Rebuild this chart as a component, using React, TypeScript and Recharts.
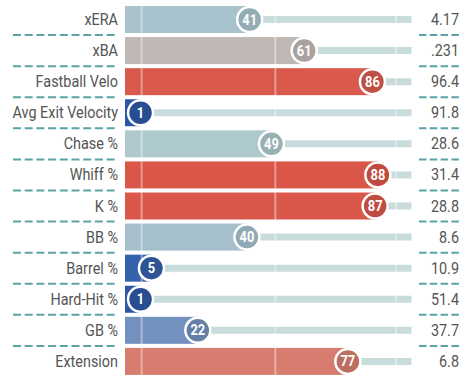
import { BarChart, Bar, XAxis, YAxis, ReferenceLine, LabelList } from 'recharts';

const metrics = [
  'xERA',
  'xBA',
  'Fastball Velo',
  'Avg Exit Velocity',
  'Chase %',
  'Whiff %',
  'K %',
  'BB %',
  'Barrel %',
  'Hard-Hit %',
  'GB %',
  'Extension',
];
const percentiles = [41, 61, 86, 1, 49, 88, 87, 40, 5, 1, 22, 77];
const statValues = ['4.17', '.231', '96.4', '91.8', '28.6', '31.4', '28.8', '8.6', '10.9', '51.4', '37.7', '6.8'];
const guideLines = [1.4, 50.4, 94.6];

const BAR_START = -4.7;
const TRACK_END = 100.4;
const FONT = 'Roboto, sans-serif';
// no condensed face installed, so squeeze Roboto horizontally
const SQUEEZE = 0.9;

// percentile -> colour, blue (low) to grey to red (high)
const colorStops: [number, number[]][] = [
  [0, [43, 85, 163]],
  [5, [53, 96, 171]],
  [22, [115, 145, 190]],
  [41, [168, 195, 205]],
  [49, [173, 201, 205]],
  [61, [192, 184, 180]],
  [77, [215, 125, 111]],
  [86, [217, 90, 77]],
  [100, [214, 59, 51]],
];

function pctColor(p: number, shade = 1): string {
  let i = 0;
  while (i < colorStops.length - 2 && p > colorStops[i + 1][0]) i++;
  const [p0, c0] = colorStops[i];
  const [p1, c1] = colorStops[i + 1];
  const t = Math.max(0, Math.min(1, (p - p0) / (p1 - p0)));
  const rgb = c0.map((v, k) => Math.round((v + (c1[k] - v) * t) * shade));
  return `rgb(${rgb.join(',')})`;
}

const data = metrics.map((metric, i) => ({
  metric,
  pct: percentiles[i],
  stat: statValues[i],
}));

const ROW_HALF = 15.5;

function CondensedText({ x, y, children }: { x: number; y: number; children: any }) {
  return (
    <text
      transform={`translate(${x},${y}) scale(${SQUEEZE},1)`}
      dy={5.5}
      textAnchor="end"
      fill="#555"
      fontSize={16}
      fontFamily={FONT}
    >
      {children}
    </text>
  );
}

function LeftTick(props: any) {
  const { x, y, payload, index } = props;
  return (
    <g>
      <CondensedText x={x} y={y}>
        {payload.value}
      </CondensedText>
      {index < metrics.length - 1 && (
        <line
          x1={13}
          x2={118}
          y1={y + ROW_HALF}
          y2={y + ROW_HALF}
          stroke="#5aa3a7"
          strokeWidth={2}
          strokeDasharray="8 3.7"
        />
      )}
    </g>
  );
}

function RightTick(props: any) {
  const { y, index } = props;
  return (
    <g>
      <CondensedText x={459} y={y}>
        {statValues[index]}
      </CondensedText>
      {index < metrics.length - 1 && (
        <line
          x1={419}
          x2={460}
          y1={y + ROW_HALF}
          y2={y + ROW_HALF}
          stroke="#5aa3a7"
          strokeWidth={2}
          strokeDasharray="7.5 3.3"
        />
      )}
    </g>
  );
}

function PctBadge(props: any) {
  const { x, y, width, height, index } = props;
  const p = percentiles[index];
  const cx = x + width;
  const cy = y + height / 2;
  return (
    <g>
      <circle cx={cx} cy={cy} r={12.5} fill={pctColor(p, 0.88)} stroke="#fff" strokeWidth={2.5} />
      <text
        transform={`translate(${cx},${cy}) scale(0.92,1)`}
        dy={5}
        textAnchor="middle"
        fill="#fff"
        fontSize={14}
        fontWeight={700}
        fontFamily={FONT}
      >
        {p}
      </text>
    </g>
  );
}

export default function App() {
  return (
    <div style={{ position: 'absolute', left: 0, top: 0, background: '#fff' }}>
      <BarChart
        width={469}
        height={382}
        data={data}
        layout="vertical"
        margin={{ top: 4, right: 0, bottom: 5, left: 0 }}
      >
        <XAxis type="number" domain={[BAR_START, TRACK_END]} hide allowDataOverflow />
        <YAxis
          type="category"
          dataKey="metric"
          width={125}
          axisLine={false}
          tickLine={false}
          interval={0}
          tick={<LeftTick />}
          tickMargin={1}
        />
        <YAxis
          yAxisId="right"
          type="category"
          dataKey="metric"
          orientation="right"
          width={57.3}
          axisLine={false}
          tickLine={false}
          interval={0}
          tick={<RightTick />}
        />
        <YAxis yAxisId="track" type="category" dataKey="metric" hide />
        <Bar
          yAxisId="track"
          dataKey={(d: any) => [d.pct, TRACK_END]}
          barSize={7}
          fill="#c9dcdc"
          isAnimationActive={false}
        />
        <Bar
          dataKey={(d: any) => [BAR_START, d.pct]}
          barSize={27}
          isAnimationActive={false}
          shape={(p: any) => (
            <rect x={p.x} y={p.y} width={p.width} height={p.height} fill={pctColor(p.payload.pct)} />
          )}
        >
          <LabelList dataKey="pct" content={<PctBadge />} />
        </Bar>
        {guideLines.map((g) => (
          <ReferenceLine key={g} x={g} stroke="#fff" strokeOpacity={0.4} strokeWidth={2} />
        ))}
      </BarChart>
    </div>
  );
}
